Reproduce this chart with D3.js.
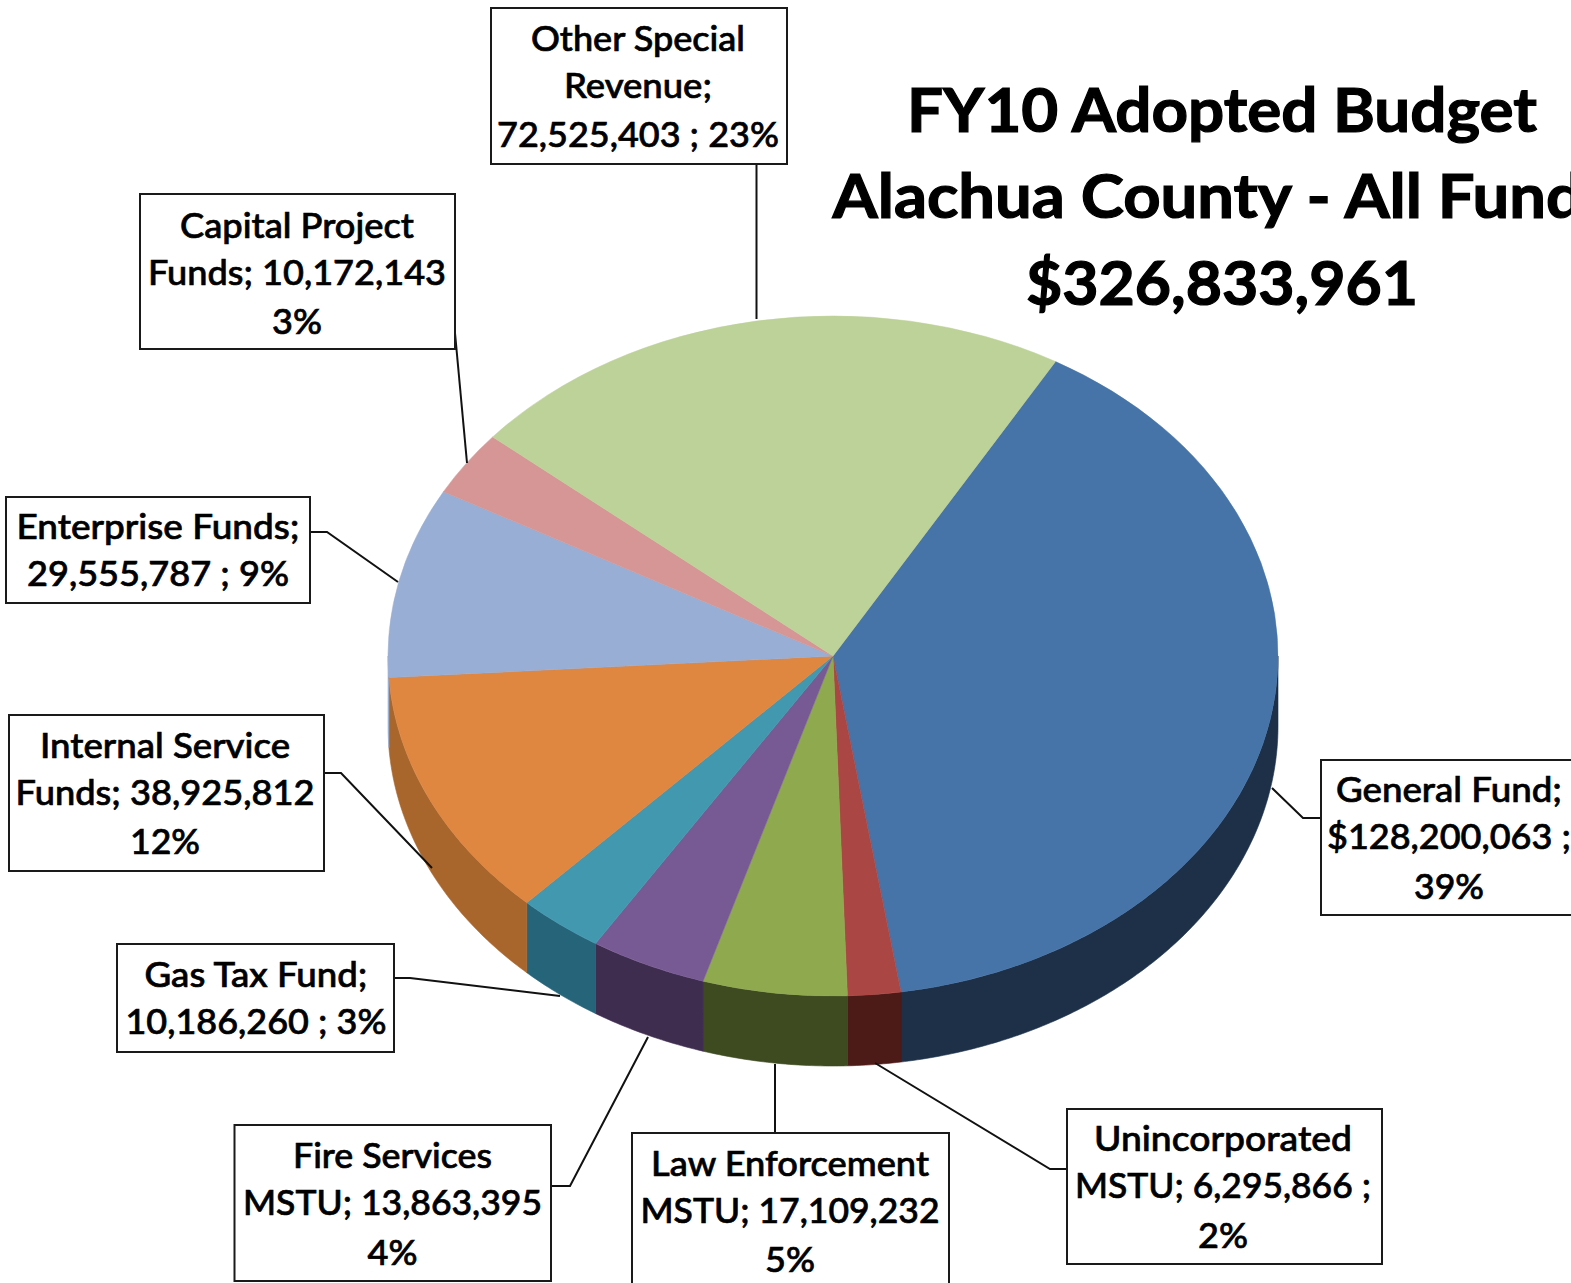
<!DOCTYPE html>
<html lang="en">
<head>
<meta charset="utf-8">
<title>FY10 Adopted Budget</title>
<script src="https://cdn.jsdelivr.net/npm/d3@7"></script>
<style>
  html, body { margin: 0; padding: 0; background: #fff; overflow: hidden; }
  svg { display: block; }
  .box { fill: #fff; stroke: #1a1a1a; stroke-width: 2; }
  .leader { fill: none; stroke: #111; stroke-width: 2; }
  .lbl { font-family: Lato, sans-serif; font-size: 35px; font-weight: 500; fill: #000; stroke: #000; stroke-width: 0.7; text-anchor: middle; }
  .title { font-family: Lato, sans-serif; font-size: 62px; font-weight: 700; fill: #000; stroke: #000; stroke-width: 1.2; text-anchor: middle; }
</style>
</head>
<body>
<script>
// data
var categories = ["General Fund", "Unincorporated MSTU", "Law Enforcement MSTU", "Fire Services MSTU",
  "Gas Tax Fund", "Internal Service Funds", "Enterprise Funds", "Capital Project Funds", "Other Special Revenue"];
var values = [128200063, 6295866, 17109232, 13863395, 10186260, 38925812, 29555787, 10172143, 72525403];
var labelLines = [
  ["General Fund;", "$128,200,063 ;", "39%"],
  ["Unincorporated", "MSTU; 6,295,866 ;", "2%"],
  ["Law Enforcement", "MSTU; 17,109,232", "5%"],
  ["Fire Services", "MSTU; 13,863,395", "4%"],
  ["Gas Tax Fund;", "10,186,260 ; 3%"],
  ["Internal Service", "Funds; 38,925,812", "12%"],
  ["Enterprise Funds;", "29,555,787 ; 9%"],
  ["Capital Project", "Funds; 10,172,143", "3%"],
  ["Other Special", "Revenue;", "72,525,403 ; 23%"]
];
var titleLines = ["FY10 Adopted Budget", "Alachua County - All Funds", "$326,833,961"];

// styles
var topColors = ["#4674a8", "#aa4643", "#8fa94f", "#775a94", "#4198af", "#df8640", "#98aed4", "#d59695", "#bdd298"];
var sideColors = ["#1d3048", "#4c1a17", "#3e4a20", "#3f2d50", "#26647a", "#a8662c", "#98aed4", "#d59695", "#bdd298"];

// layout
var w = 1571, h = 1283;
var cx = 833, cy = 656, rx = 445, ry = 340, depth = 70;
var boxes = [
  [1321, 760, 1600, 915], [1067, 1109, 1382, 1264], [632, 1133, 949, 1292], [234.5, 1125, 551, 1281],
  [117, 944, 394, 1052], [9, 715, 324, 871], [6, 497, 310, 603], [140, 194, 455, 349], [491, 8, 787, 164]
];
var leaders = [
  [[1272, 788], [1303, 818], [1321, 818]],
  [[875, 1063], [1050, 1169], [1067, 1169]],
  [[775, 1064], [775, 1133]],
  [[648, 1037], [570, 1186], [551, 1186]],
  [[560, 996], [410, 978], [394, 978]],
  [[432, 868], [341, 773], [324, 773]],
  [[398, 582], [327, 532], [310, 532]],
  [[467, 463], [455, 333]],
  [[756.5, 319], [756.5, 164]]
];
var lineBaselines = [
  [802, 849, 899], [1151, 1198, 1248], [1176, 1223, 1272], [1168, 1215, 1265], [987, 1034],
  [758, 805, 854], [539, 586], [238, 285, 334], [51, 98, 147]
];
var lineWidths = [
  [226, 244, 70], [258, 296, 50], [278, 299, 50], [199, 299, 50], [223, 261],
  [250, 299, 70], [283, 262], [234, 298, 50], [214, 148, 282]
];
var lineCenters = [1449, 1223, 790, 392.5, 256, 165, 158, 297, 638];

var svg = d3.select("body").append("svg").attr("width", w).attr("height", h);

var pie = d3.pie().sort(null).startAngle(Math.PI / 6).endAngle(Math.PI / 6 + 2 * Math.PI);
var arcs = pie(values);

// side wall, only the front half of the ellipse shows
var wallLine = d3.line();
function wallPath(d) {
  var a0 = Math.max(d.startAngle, Math.PI / 2);
  var a1 = Math.min(d.endAngle, 3 * Math.PI / 2);
  if (a1 <= a0) return null;
  var steps = d3.range(a0, a1, 0.01).concat([a1]);
  var pts = steps.map(function(a) { return [cx + rx * Math.sin(a), cy - ry * Math.cos(a)]; });
  var low = steps.slice().reverse().map(function(a) { return [cx + rx * Math.sin(a), cy - ry * Math.cos(a) + depth]; });
  return wallLine(pts.concat(low)) + "Z";
}

svg.append("g").selectAll("path")
  .data(arcs.filter(function(d) { return wallPath(d) !== null; }))
  .enter().append("path")
  .attr("d", wallPath)
  .attr("fill", function(d) { return sideColors[d.index]; })
  .attr("stroke", function(d) { return sideColors[d.index]; })
  .attr("stroke-width", 0.6);

// top face, a circle squashed into the ellipse
var arc = d3.arc().innerRadius(0).outerRadius(rx);
svg.append("g")
  .attr("transform", "translate(" + cx + "," + cy + ") scale(1," + (ry / rx) + ")")
  .selectAll("path")
  .data(arcs)
  .enter().append("path")
  .attr("d", arc)
  .attr("fill", function(d) { return topColors[d.index]; })
  .attr("stroke", function(d) { return topColors[d.index]; })
  .attr("stroke-width", 0.6);

svg.append("g").selectAll("path")
  .data(leaders)
  .enter().append("path")
  .attr("class", "leader")
  .attr("d", d3.line());

var labels = svg.append("g").selectAll("g")
  .data(categories)
  .enter().append("g");

labels.append("rect")
  .attr("class", "box")
  .attr("x", function(d, i) { return boxes[i][0]; })
  .attr("y", function(d, i) { return boxes[i][1]; })
  .attr("width", function(d, i) { return boxes[i][2] - boxes[i][0]; })
  .attr("height", function(d, i) { return boxes[i][3] - boxes[i][1]; });

labels.each(function(d, i) {
  d3.select(this).selectAll("text")
    .data(labelLines[i])
    .enter().append("text")
    .attr("class", "lbl")
    .attr("x", lineCenters[i])
    .attr("y", function(t, j) { return lineBaselines[i][j]; })
    .attr("textLength", function(t, j) { return lineWidths[i][j]; })
    .attr("lengthAdjust", "spacingAndGlyphs")
    .text(function(t) { return t; });
});

var titleY = [132, 218, 305];
var titleW = [630, 779, 392];
svg.append("g").selectAll("text")
  .data(titleLines)
  .enter().append("text")
  .attr("class", "title")
  .attr("x", 1222)
  .attr("y", function(d, i) { return titleY[i]; })
  .attr("textLength", function(d, i) { return titleW[i]; })
  .attr("lengthAdjust", "spacingAndGlyphs")
  .text(function(d) { return d; });
</script>
</body>
</html>
